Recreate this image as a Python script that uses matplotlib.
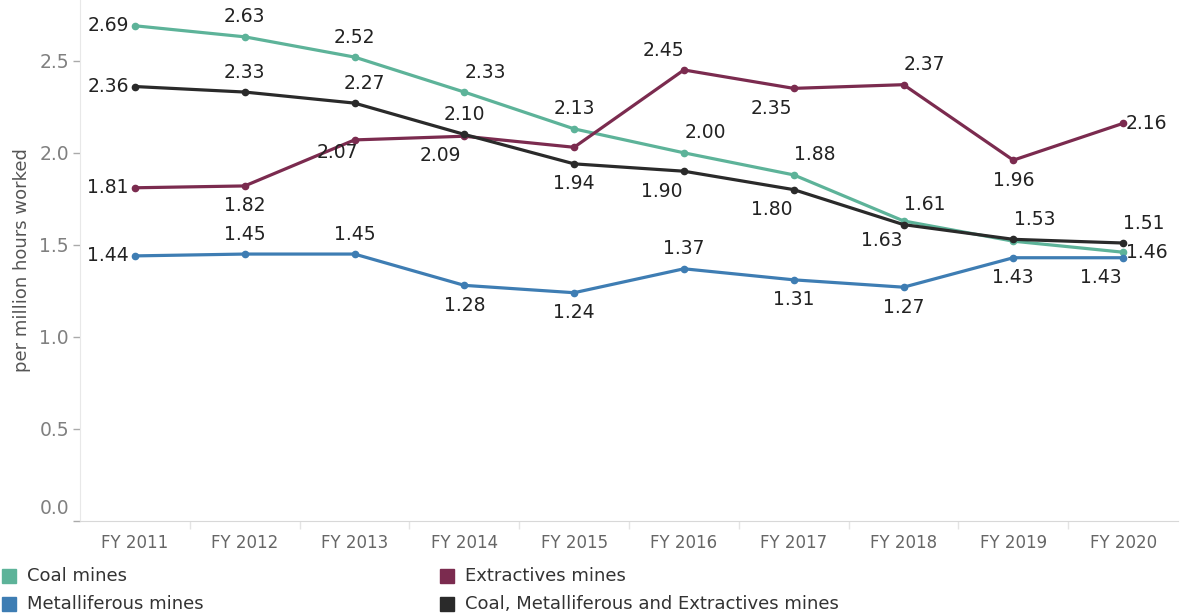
import matplotlib
matplotlib.use("Agg")
import matplotlib.pyplot as plt
import matplotlib.transforms as mtransforms
from matplotlib.patches import Rectangle

# Injury frequency rates by mine type
years = ["FY 2011", "FY 2012", "FY 2013", "FY 2014", "FY 2015",
         "FY 2016", "FY 2017", "FY 2018", "FY 2019", "FY 2020"]

coal = [2.69, 2.63, 2.52, 2.33, 2.13, 2.00, 1.88, 1.63, 1.52, 1.46]
extractives = [1.81, 1.82, 2.07, 2.09, 2.03, 2.45, 2.35, 2.37, 1.96, 2.16]
metalliferous = [1.44, 1.45, 1.45, 1.28, 1.24, 1.37, 1.31, 1.27, 1.43, 1.43]
combined = [2.36, 2.33, 2.27, 2.10, 1.94, 1.90, 1.80, 1.61, 1.53, 1.51]

series_names = ["Coal mines", "Extractives mines", "Metalliferous mines",
                "Coal, Metalliferous and Extractives mines"]

# label placement for each point (None = no label)
coal_pos = ["L", "A", "A", "AR", "A", "AR", "AR", "BL", None, "R"]
extr_pos = ["L", "B", "BL2", "BL3", None, "AL", "BL", "AR", "B", "R"]
metal_pos = ["L", "A", "A", "B", "B", "A", "B", "B", "B", "BL"]
comb_pos = ["L", "A", "AR2", "A", "B", "BL", "BL", "AR", "AR", "AR"]

colors = {
    "coal": "#5DB399",
    "extr": "#7B2B4F",
    "metal": "#3E7DB3",
    "comb": "#2A2A2A",
}

offsets = {
    "L": (-6, 0, "right", "center"),
    "R": (3, 0, "left", "center"),
    "A": (0, 20, "center", "center"),
    "B": (0, -20, "center", "center"),
    "AR": (21, 20, "center", "center"),
    "AR2": (10, 20, "center", "center"),
    "AL": (-20, 19, "center", "center"),
    "BL": (-22, -20, "center", "center"),
    "BL2": (-17, -13, "center", "center"),
    "BL3": (-24, -19, "center", "center"),
}

W, H = 1180, 616
fig = plt.figure(figsize=(W / 100, H / 100), dpi=100)
ax = fig.add_axes([80 / W, (H - 521) / H, 1098 / W, 521 / H])

x = list(range(len(years)))
data = [
    (coal, colors["coal"], coal_pos),
    (extractives, colors["extr"], extr_pos),
    (metalliferous, colors["metal"], metal_pos),
    (combined, colors["comb"], comb_pos),
]

for vals, col, pos in data:
    ax.plot(x, vals, color=col, lw=2.3, marker="o", ms=4.5,
            solid_capstyle="round", zorder=3)
    for xi, v, p in zip(x, vals, pos):
        if p is None:
            continue
        dx, dy, ha, va = offsets[p]
        ax.annotate(f"{v:.2f}", (xi, v), xytext=(dx, dy),
                    textcoords="offset pixels", ha=ha, va=va,
                    fontsize=13.5, color="#222222", zorder=4)

ax.set_xlim(-0.5, len(years) - 0.5)
ax.set_ylim(0, 2.83)

ax.set_xticks(x)
ax.set_xticklabels(years, fontsize=12, color="#666666")
ax.tick_params(axis="x", length=0, pad=9)
ax.set_xticks([i + 0.5 for i in x[:-1]], minor=True)
ax.tick_params(axis="x", which="minor", length=6, color="#e4e4e4", width=1)

ax.set_yticks([0.0, 0.5, 1.0, 1.5, 2.0, 2.5])
ax.set_yticklabels(["0.0", "0.5", "1.0", "1.5", "2.0", "2.5"],
                   fontsize=13.5, color="#808080")
ax.tick_params(axis="y", length=5, color="#aaaaaa", width=1, pad=3)
ax.set_ylabel("per million hours worked", fontsize=13, color="#555555",
              labelpad=6)

for side in ("top", "right"):
    ax.spines[side].set_visible(False)
ax.spines["left"].set_color("#e8e8e8")
ax.spines["bottom"].set_color("#d8d8d8")
ax.spines["bottom"].set_linestyle((0, (1, 1)))

# raise the zero label so it sits above the baseline
zero_lbl = ax.get_yticklabels()[0]
zero_lbl.set_verticalalignment("bottom")
zero_lbl.set_transform(zero_lbl.get_transform() +
                       mtransforms.ScaledTranslation(0, 0.03, fig.dpi_scale_trans))

# legend laid out in two columns beneath the chart
legend_items = [
    (series_names[0], colors["coal"], 2, 576),
    (series_names[1], colors["extr"], 440, 576),
    (series_names[2], colors["metal"], 2, 604),
    (series_names[3], colors["comb"], 440, 604),
]
for name, col, px, py in legend_items:
    fig.add_artist(Rectangle((px / W, (H - py - 7) / H), 14 / W, 14 / H,
                             transform=fig.transFigure, color=col))
    fig.text((px + 25) / W, (H - py) / H, name, fontsize=13,
             color="#333333", va="center", ha="left")

fig.savefig("out.png", dpi=100)
